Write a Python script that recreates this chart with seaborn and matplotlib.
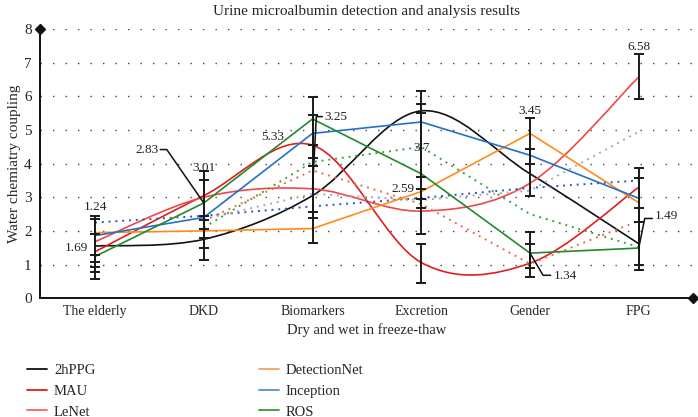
import matplotlib

matplotlib.use("Agg")
import matplotlib.pyplot as plt
import numpy as np
import seaborn as sns
from matplotlib.lines import Line2D
from matplotlib.patches import PathPatch
from matplotlib.path import Path

categories = ["The elderly", "DKD", "Biomarkers", "Excretion", "Gender", "FPG"]

# smoothed series
hppg = [1.55, 1.75, 3.05, 5.57, 3.70, 1.62]
mau = [1.38, 3.05, 4.55, 1.06, 1.04, 3.30]
lenet = [1.68, 3.00, 3.25, 2.59, 3.42, 6.58]
# straight series
detectionnet = [1.95, 2.00, 2.07, 3.17, 4.90, 2.84]
inception = [1.86, 2.40, 4.90, 5.24, 4.25, 2.97]
ros = [1.24, 2.83, 5.33, 3.70, 1.34, 1.49]
# dotted series (not in visible legend)
dot_blue = [2.25, 2.45, 2.73, 2.98, 3.28, 3.50]
dot_green = [np.nan, 2.10, 4.05, 4.50, 2.50, 1.52]
dot_red = [np.nan, 2.30, 3.80, 2.80, 1.02, 2.30]
dot_grey = [np.nan, 2.35, 3.10, 2.92, 3.20, 4.95]

# error bars: category index, low, high
err_cat = [0, 0, 0, 0, 1, 1, 1, 1, 2, 2, 2, 2, 3, 3, 3, 3, 3, 4, 4, 4, 4, 5, 5, 5, 5]
err_low = [0.56, 0.77, 0.92, 1.07, 1.13, 1.48, 1.78, 2.07, 1.63, 2.39, 2.55, 3.94,
           1.92, 2.67, 2.96, 3.26, 0.44, 3.05, 4.00, 0.64, 0.89, 5.93, 0.83, 0.98, 2.27]
err_high = [2.43, 2.34, 1.92, 1.27, 3.79, 3.50, 2.43, 2.31, 5.97, 5.45, 4.56, 4.18,
            6.16, 5.77, 5.50, 3.60, 1.62, 5.37, 4.44, 1.96, 1.62, 7.26, 3.86, 3.56, 2.68]

SERIF = "Liberation Serif"


def smooth_path(xs, ys):
    """Catmull-Rom style cubic Bezier through the points."""
    n = len(xs)
    verts = [(xs[0], ys[0])]
    codes = [Path.MOVETO]
    for i in range(n - 1):
        x0, y0 = (xs[i - 1], ys[i - 1]) if i > 0 else (xs[i], ys[i])
        x1, y1 = xs[i], ys[i]
        x2, y2 = xs[i + 1], ys[i + 1]
        x3, y3 = (xs[i + 2], ys[i + 2]) if i + 2 < n else (x2, y2)
        verts += [(x1 + (x2 - x0) / 6, y1 + (y2 - y0) / 6),
                  (x2 - (x3 - x1) / 6, y2 - (y3 - y1) / 6),
                  (x2, y2)]
        codes += [Path.CURVE4] * 3
    return Path(verts, codes)


sns.set_style("white")
plt.rcParams["font.family"] = [SERIF, "DejaVu Serif"]

fig, ax = plt.subplots(figsize=(6.98, 4.17), dpi=100)
fig.subplots_adjust(left=0.0573, right=0.993, bottom=0.285, top=0.930)

xs = np.arange(len(categories))

for yv in range(1, 9):
    ax.axhline(yv, color="#444444", lw=1.0, ls=(0, (1, 8)), zorder=0)

dotted = [(dot_blue, "#2f55b5"), (dot_green, "#3ea03e"), (dot_red, "#f06a4a"), (dot_grey, "#a9a9a9")]
for vals, col in dotted:
    sns.lineplot(x=xs, y=vals, color=col, lw=1.4, ls=(0, (1, 2.5)), ax=ax, legend=False)

lw = 1.2
sns.lineplot(x=xs, y=detectionnet, color="#ff8c1a", lw=lw, ax=ax, legend=False)
sns.lineplot(x=xs, y=inception, color="#2370c8", lw=lw, ax=ax, legend=False)
sns.lineplot(x=xs, y=ros, color="#23892a", lw=lw, ax=ax, legend=False)

for vals, col in [(hppg, "#111111"), (mau, "#e01e1e"), (lenet, "#f04848")]:
    ax.add_patch(PathPatch(smooth_path(xs, vals), fill=False, edgecolor=col, lw=lw))

mid = [(lo + hi) / 2 for lo, hi in zip(err_low, err_high)]
half = [(hi - lo) / 2 for lo, hi in zip(err_low, err_high)]
ax.errorbar(err_cat, mid, yerr=half, fmt="none", ecolor="#1a1a1a", elinewidth=1.4,
            capsize=3.8, capthick=1.4, zorder=5)

# value labels and leader lines
tk = dict(fontsize=9.5, color="#222222", zorder=6)
ax.text(0, 2.70, "1.24", ha="center", va="center", **tk)
ax.text(-0.065, 1.50, "1.69", ha="right", va="center", **tk)
ax.text(0.48, 4.42, "2.83", ha="center", va="center", **tk)
ax.plot([0.60, 0.66, 1], [4.42, 4.42, ros[1]], color="#111111", lw=1.1, zorder=6)
ax.text(1, 3.86, "3.01", ha="center", va="center", **tk)
ax.text(1.63, 4.78, "5.33", ha="center", va="center", **tk)
ax.plot([2, 2.035, 2.09], [lenet[2], 5.40, 5.40], color="#111111", lw=1.1, zorder=6)
ax.text(2.11, 5.40, "3.25", ha="left", va="center", **tk)
ax.text(3, 4.48, "3.7", ha="center", va="center", **tk)
ax.text(2.94, 3.26, "2.59", ha="right", va="center", **tk)
ax.text(4, 5.58, "3.45", ha="center", va="center", **tk)
ax.plot([4, 4.12, 4.19], [ros[4], 0.68, 0.68], color="#111111", lw=1.1, zorder=6)
ax.text(4.22, 0.66, "1.34", ha="left", va="center", **tk)
ax.text(5, 7.48, "6.58", ha="center", va="center", **tk)
ax.plot([5, 5.055, 5.125], [ros[5], 2.37, 2.37], color="#111111", lw=1.1, zorder=6)
ax.text(5.15, 2.43, "1.49", ha="left", va="center", **tk)

ax.set_xlim(-0.506, 5.5)
ax.set_ylim(0, 8)
ax.set_xticks(xs)
ax.set_xticklabels(categories, fontsize=10)
ax.set_yticks(range(0, 9))
ax.tick_params(axis="y", labelsize=11, length=0, pad=6)
ax.tick_params(axis="x", length=0, pad=5)
for side in ["top", "right"]:
    ax.spines[side].set_visible(False)
for side in ["left", "bottom"]:
    ax.spines[side].set_color("#111111")
    ax.spines[side].set_linewidth(1.4)
ax.plot([0], [1], marker="D", color="#111111", ms=5, transform=ax.transAxes, clip_on=False)
ax.plot([1], [0], marker="D", color="#111111", ms=5, transform=ax.transAxes, clip_on=False)

ax.set_title("Urine microalbumin detection and analysis results", fontsize=11, pad=10)
ax.set_xlabel("Dry and wet in freeze-thaw", fontsize=10.5, labelpad=4)
ax.set_ylabel("Water chemiatry coupling", fontsize=11)
ax.yaxis.set_label_coords(-0.029, 0.5)

names = ["2hPPG", "MAU", "LeNet", "DetectionNet", "Inception", "ROS"]
colors = ["#111111", "#e01e1e", "#f06464", "#f9a25a", "#5b8fd0", "#3a9a3a"]
handles = [Line2D([], [], color=c, lw=1.3) for c in colors]
ax.legend(handles, names, ncol=2, loc="upper left", bbox_to_anchor=(-0.04, -0.195),
          frameon=False, fontsize=10.5, handlelength=1.4, handletextpad=0.45,
          columnspacing=11.2, labelspacing=0.52)

fig.savefig("out.png", dpi=100)
